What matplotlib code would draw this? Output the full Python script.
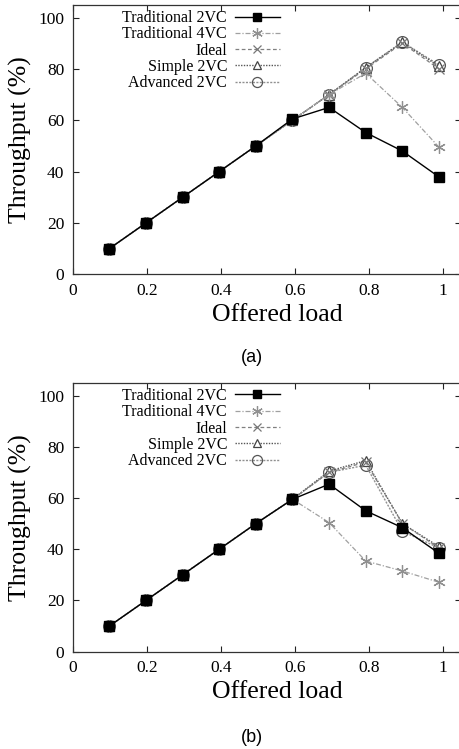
import matplotlib
matplotlib.use("Agg")
import matplotlib.pyplot as plt

plt.rcParams['font.family'] = ['Liberation Serif', 'DejaVu Serif']

# Offered load (x values)
offered_load = [0.099, 0.198, 0.297, 0.396, 0.495, 0.594, 0.693, 0.792, 0.891, 0.990]

# (a)
a_trad2 = [10, 20, 30, 40, 50, 60.5, 65.0, 55.2, 48.0, 37.9]
a_trad4 = [10, 20, 30, 40, 50, 60.0, 70.0, 78.3, 65.0, 49.5]
a_ideal = [10, 20, 30, 40, 50, 60.0, 70.0, 80.0, 90.0, 80.0]
a_simple = [10, 20, 30, 40, 50, 60.0, 70.0, 80.5, 90.3, 81.0]
a_adv = [10, 20, 30, 40, 50, 60.0, 70.0, 80.5, 90.5, 81.5]

# (b)
b_trad2 = [10, 20, 30, 40, 50, 59.5, 65.4, 55.0, 48.4, 38.4]
b_trad4 = [10, 20, 30, 40, 50, 59.5, 50.4, 35.4, 31.5, 27.1]
b_ideal = [10, 20, 30, 40, 50, 59.5, 70.0, 74.0, 50.0, 40.5]
b_simple = [10, 20, 30, 40, 50, 59.5, 70.5, 74.6, 50.0, 41.0]
b_adv = [10, 20, 30, 40, 50, 59.5, 70.0, 72.8, 47.0, 40.5]

labels = ['Traditional 2VC', 'Traditional 4VC', 'Ideal', 'Simple 2VC', 'Advanced 2VC']
xticks = [0, 0.2, 0.4, 0.6, 0.8, 1]
xticklabels = ['0', '0.2', '0.4', '0.6', '0.8', '1']
yticks = [0, 20, 40, 60, 80, 100]

styles = [
    dict(color='black', ls='-', lw=1.0, marker='s', ms=7.5, mfc='black', mec='black'),
    dict(color='#a0a0a0', ls=(0, (4, 1.5, 1, 1.5)), lw=0.9, marker=(6, 2, 0), ms=9, mec='#909090', mew=0.9),
    dict(color='#808080', ls=(0, (3, 2)), lw=0.9, marker='x', ms=7.5, mec='#777777', mew=0.9),
    dict(color='#555555', ls=(0, (1, 1)), lw=1.0, marker='^', ms=7.5, mfc='white', mec='#444444', mew=0.9),
    dict(color='#909090', ls=(0, (1.5, 1)), lw=1.0, marker='o', ms=8.5, mfc='none', mec='#555555', mew=0.9),
]

fig = plt.figure(figsize=(4.6, 7.49), dpi=100)

def panel(rect, series, caption, cap_y):
    ax = fig.add_axes(rect)
    handles = [None] * len(series)
    for i in reversed(range(len(series))):
        h, = ax.plot(offered_load, series[i], label=labels[i], **styles[i])
        handles[i] = h
    ax.set_xlim(0, 1.05)
    ax.set_ylim(0, 105)
    ax.set_xticks(xticks)
    ax.set_xticklabels(xticklabels)
    ax.set_yticks(yticks)
    ax.tick_params(direction='in', top=True, right=True, length=4, width=0.8,
                   labelsize=12.5, pad=6, colors='#222222', labelcolor='black')
    for s in ax.spines.values():
        s.set_linewidth(0.9)
        s.set_color('#333333')
    ax.set_xlabel('Offered load', fontsize=18.5)
    ax.xaxis.set_label_coords(0.526, -0.11)
    ax.set_ylabel('Throughput (%)', fontsize=18.5)
    ax.yaxis.set_label_coords(-0.104, 0.5)
    ax.legend(handles, labels, loc='upper right', bbox_to_anchor=(0.533, 0.98),
              markerfirst=False, frameon=False, fontsize=11.5, handlelength=2.8,
              handletextpad=0.5, labelspacing=0.02, borderpad=0, borderaxespad=0,
              numpoints=1, markerscale=0.85)
    fig.text(252 / 460, cap_y, caption, ha='center', va='center',
             family='Liberation Sans', fontsize=13)
    return ax

panel([72.7 / 460, 474.7 / 749, 388.5 / 460, 269.6 / 749],
      [a_trad2, a_trad4, a_ideal, a_simple, a_adv], '(a)', 1 - 358 / 749)
panel([72.7 / 460, 97.3 / 749, 388.5 / 460, 269.0 / 749],
      [b_trad2, b_trad4, b_ideal, b_simple, b_adv], '(b)', 1 - 737 / 749)

fig.savefig('out.png', dpi=100)
